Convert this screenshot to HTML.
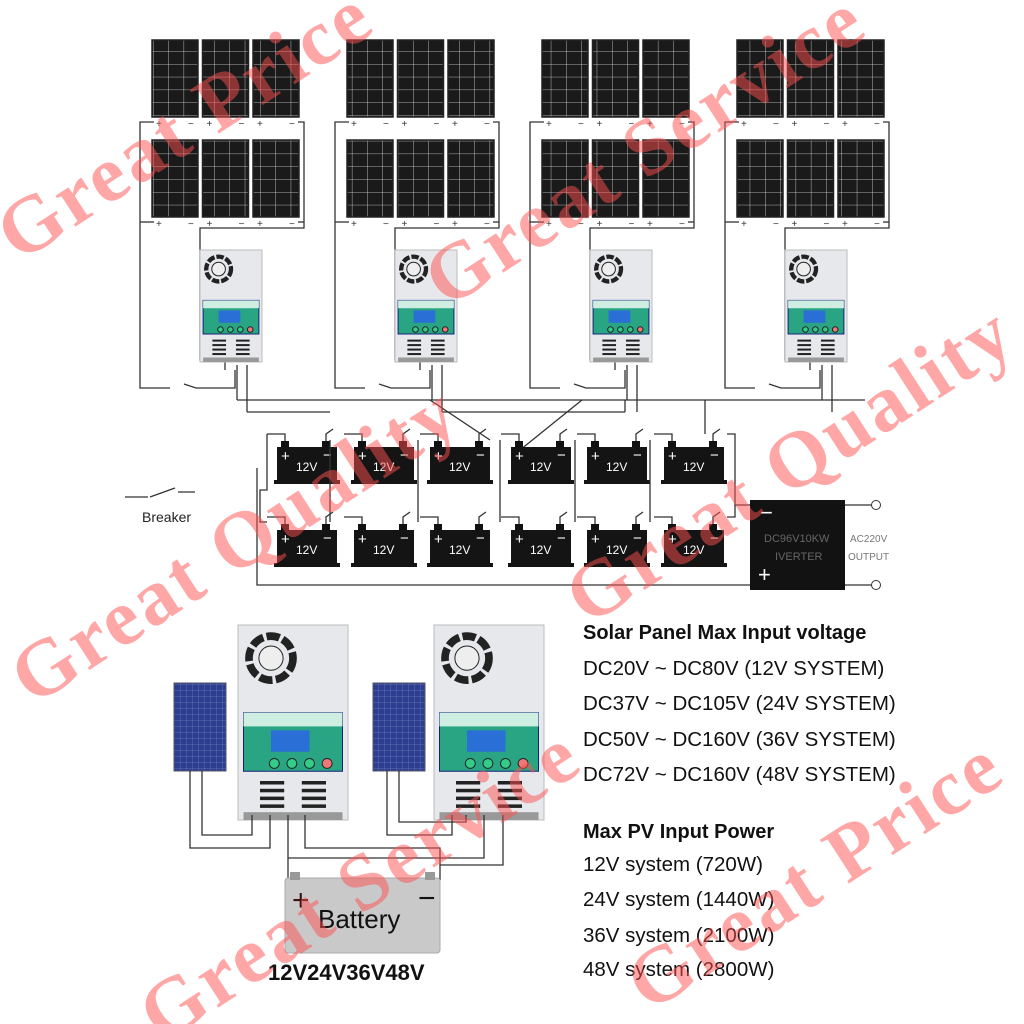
<!DOCTYPE html>
<html><head><meta charset="utf-8"><style>
html,body{margin:0;padding:0;background:#fff;}
#c{position:relative;width:1024px;height:1024px;overflow:hidden;font-family:"Liberation Sans",sans-serif;}
svg{position:absolute;left:0;top:0}
.t{position:absolute;left:583px;font-size:20.5px;color:#111;white-space:nowrap}
.b{font-weight:bold;font-size:20px}
.wm{position:absolute;font-family:"Liberation Serif",serif;font-weight:bold;color:rgba(255,80,80,0.5);font-size:80px;letter-spacing:3px;white-space:nowrap;transform:translate(-50%,-50%) rotate(-33deg);}
</style></head><body><div id="c">
<svg id="s" width="1024" height="1024" viewBox="0 0 1024 1024">
<defs>
<pattern id="cell" width="15.3" height="12.8" patternUnits="userSpaceOnUse">
<rect width="15.3" height="12.8" fill="#1a1a1a"/><path d="M0 0H15.3M0 0V12.8" stroke="#ddd" stroke-width="0.8"/>
</pattern>
<pattern id="blue" width="6" height="6" patternUnits="userSpaceOnUse">
<rect width="6" height="6" fill="#2d3d8f"/><path d="M0 0H6M0 0V6" stroke="#8d9ad0" stroke-width="0.5"/>
</pattern>
</defs>
<g id="g"></g>
<text x="142" y="522" font-size="14" fill="#222">Breaker</text>
<text x="764" y="542" font-size="11" fill="#666">DC96V10KW</text>
<text x="775" y="560" font-size="11" fill="#666">IVERTER</text>
<text x="850" y="542" font-size="10" fill="#777">AC220V</text>
<text x="848" y="560" font-size="10" fill="#777">OUTPUT</text>
<text x="318" y="928" font-size="26" fill="#111">Battery</text>
<text x="268" y="980" font-size="22" font-weight="bold" fill="#111">12V24V36V48V</text>
</svg>
<div class="t b" style="top:622px">Solar Panel Max Input voltage</div>
<div class="t" style="top:657px">DC20V ~ DC80V (12V SYSTEM)</div>
<div class="t" style="top:692px">DC37V ~ DC105V (24V SYSTEM)</div>
<div class="t" style="top:728px">DC50V ~ DC160V (36V SYSTEM)</div>
<div class="t" style="top:763px">DC72V ~ DC160V (48V SYSTEM)</div>
<div class="t b" style="top:821px">Max PV Input Power</div>
<div class="t" style="top:853px">12V system (720W)</div>
<div class="t" style="top:888px">24V system (1440W)</div>
<div class="t" style="top:924px">36V system (2100W)</div>
<div class="t" style="top:958px">48V system (2800W)</div>
<div class="wm" style="left:185px;top:125px">Great Price</div>
<div class="wm" style="left:645px;top:150px">Great Service</div>
<div class="wm" style="left:235px;top:545px">Great Quality</div>
<div class="wm" style="left:790px;top:465px">Great Quality</div>
<div class="wm" style="left:360px;top:885px">Great Service</div>
<div class="wm" style="left:815px;top:875px">Great Price</div>
</div>
<script>
var h='';
function L(p){h+='<polyline points="'+p+'" fill="none" stroke="#333" stroke-width="1.3"/>';}
function R(x,y,w,hh,f,extra){h+='<rect x="'+x+'" y="'+y+'" width="'+w+'" height="'+hh+'" fill="'+f+'" '+(extra||'')+'/>';}
function T(x,y,s,sz,f){h+='<text x="'+x+'" y="'+y+'" font-size="'+sz+'" fill="'+(f||'#fff')+'" font-family="Liberation Sans">'+s+'</text>';}
function ctrl(x,y,w,hh){
 R(x,y,w,hh,'#e6e8ec','stroke="#bbb"');
 var cx=x+w*0.3,cy=y+hh*0.17,r=w*0.2;
 h+='<circle cx="'+cx+'" cy="'+cy+'" r="'+r+'" fill="none" stroke="#222" stroke-width="'+(w*0.07)+'" stroke-dasharray="'+(r*0.6)+' '+(r*0.15)+'"/>';
 h+='<circle cx="'+cx+'" cy="'+cy+'" r="'+(r*0.55)+'" fill="#eee" stroke="#222" stroke-width="1"/>';
 R(x+w*0.05,y+hh*0.45,w*0.9,hh*0.3,'#2aa583','stroke="#127"');
 R(x+w*0.05,y+hh*0.45,w*0.9,hh*0.07,'#cdeee0');
 R(x+w*0.3,y+hh*0.54,w*0.35,hh*0.11,'#2a6fd6');
 for(var i=0;i<4;i++){h+='<circle cx="'+(x+w*(0.33+i*0.16))+'" cy="'+(y+hh*0.71)+'" r="'+(w*0.045)+'" fill="'+(i==3?'#e77':'#3c8')+'" stroke="#222"/>';}
 for(var j=0;j<4;j++){R(x+w*0.2,y+hh*(0.8+j*0.04),w*0.22,hh*0.018,'#222');R(x+w*0.58,y+hh*(0.8+j*0.04),w*0.22,hh*0.018,'#222');}
 R(x+w*0.05,y+hh*0.96,w*0.9,hh*0.04,'#999');
}
var gx=[150,345,540,735];
gx.forEach(function(g,k){
 [40,140].forEach(function(y){
  for(var i=0;i<3;i++){var x=g+2+i*50.5;R(x,y,46,77,'url(#cell)','stroke="#222" stroke-width="1.5"');
   T(x+4,y+87,'+',10,'#333');T(x+36,y+87,'−',10,'#333');}
 });
 L((g+148)+',122 '+(g+154)+',122 '+(g+154)+',222 '+(g+154)+',228 '+(g+50)+',228 '+(g+50)+',360 '+(g+75)+',360 '+(g+75)+',370');
 L((g+4)+',122 '+(g-10)+',122 '+(g-10)+',388 '+(g+20)+',388');
 L((g+34)+',384 '+(g+46)+',388 '+(g+85)+',388 '+(g+85)+',370');
 L((g+4)+',222 '+(g-10)+',222');
 L((g+148)+',222 '+(g+154)+',222');
 ctrl(g+50,250,62,112);
 L((g+87)+',365 '+(g+87)+',400');
 L((g+97)+',365 '+(g+97)+',412');
});
L('237,400 865,400');
L('247,412 330,412');
L('442,412 625,412');
L('625,400 625,412');
L('430,400 490,440');
L('582,400 520,450');
var bx=[277,354,430,511,587,664];
[447,530].forEach(function(y){
 bx.forEach(function(x){
  R(x+4,y-6,8,8,'#111');R(x+45,y-6,8,8,'#111');
  R(x,y,60,36,'#141414');R(x-3,y+33,66,4,'#141414');
  T(x+4,y+14,'+',15);T(x+46,y+13,'−',15);T(x+19,y+24,'12V',12);
  L((x+8)+','+(y-6)+' '+(x+8)+','+(y-13)+' '+(x-10)+','+(y-13));
  L((x+49)+','+(y-6)+' '+(x+49)+','+(y-13)+' '+(x+56)+','+(y-18));
 });
});
L('267,434 267,490 260,490 260,522 267,522');
L('257,468 257,585 750,585');
L('330,440 330,490 330,522');L('418,440 418,522');L('500,440 500,522');L('575,440 575,522');L('650,440 650,522');
L('727,434 735,434 735,505 750,505');L('727,517 735,517 735,505');
L('705,400 705,434');
R(750,500,95,90,'#121212');
T(760,520,'−',22);T(758,582,'+',22);
L('845,505 872,505');L('845,585 872,585');
h+='<circle cx="876" cy="505" r="4.5" fill="#fff" stroke="#333"/><circle cx="876" cy="585" r="4.5" fill="#fff" stroke="#333"/>';
L('125,497 148,497');L('150,497 175,488');L('178,492 195,492');
R(174,683,52,88,'url(#blue)','stroke="#556"');
R(373,683,52,88,'url(#blue)','stroke="#556"');
ctrl(238,625,110,195);ctrl(434,625,110,195);
L('190,771 190,848 270,848 270,815');
L('202,771 202,835 252,835 252,815');
L('387,771 387,835 452,835 452,815');
L('399,771 399,822 466,822 466,815');
L('288,815 288,858 484,858 484,815');
L('305,815 305,848 440,848 440,865 503,865 503,815');
L('288,858 288,880');L('440,865 440,880');
R(285,878,155,75,'#c9c9c9','stroke="#aaa" rx="3"');
R(290,872,10,8,'#999');R(425,872,10,8,'#999');
T(292,910,'+',30,'#3a1414');T(418,908,'−',30,'#111');
document.getElementById('g').innerHTML=h;
</script>
</body></html>
